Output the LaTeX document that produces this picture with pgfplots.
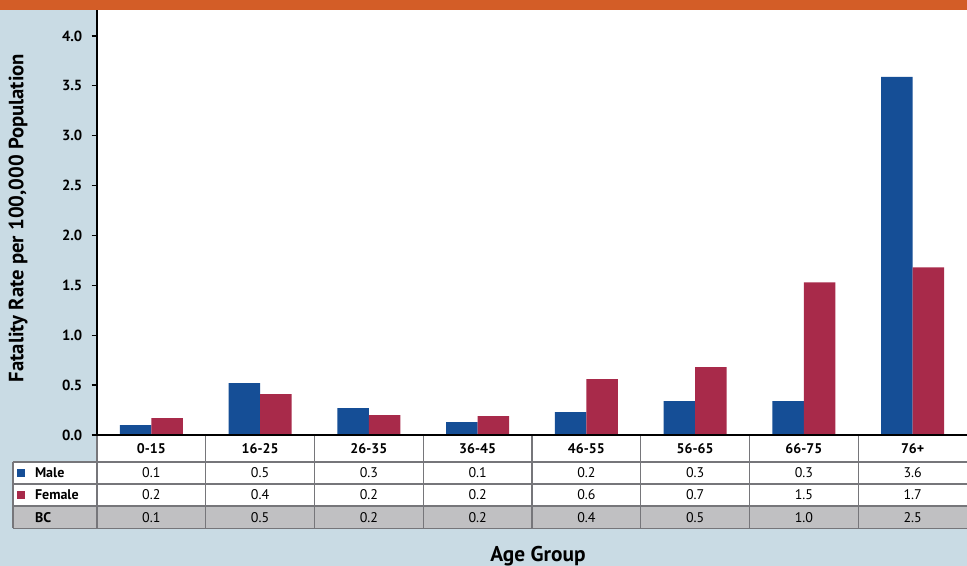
\documentclass[border=0pt]{standalone}
\usepackage{pgfplots}
\usepackage{pgfplotstable}
\pgfplotsset{compat=1.18}
\usepackage{fontspec}
\setmainfont{PT Sans}

\definecolor{bgblue}{HTML}{C9DBE4}
\definecolor{topbar}{HTML}{D35D27}
\definecolor{male}{HTML}{154E96}
\definecolor{female}{HTML}{A82A4A}
\definecolor{bcgray}{HTML}{C0C0C2}
\definecolor{gridgray}{HTML}{76767A}

% bar heights per age group
\pgfplotstableread{
x male female
0 0.10 0.17
1 0.52 0.41
2 0.27 0.20
3 0.13 0.19
4 0.23 0.56
5 0.34 0.68
6 0.34 1.53
7 3.59 1.68
}\rates

\begin{document}
\begin{tikzpicture}
% background and orange strip
\fill[bgblue] (-72.75pt,-98.25pt) rectangle (652.5pt,326.25pt);
\fill[topbar] (-72.75pt,318.75pt) rectangle (652.5pt,326.25pt);
\fill[white] (0pt,0pt) rectangle (652.5pt,318.75pt);

\begin{axis}[
	at={(0pt,0pt)}, anchor=south west,
	scale only axis,
	width=652.5pt, height=318.75pt,
	xmin=-0.5, xmax=7.5,
	ymin=0, ymax=4.26,
	axis x line*=bottom,
	axis y line*=left,
	axis line style={black, line width=2pt},
	xtick=\empty,
	ytick={0,0.5,...,4},
	tick align=outside,
	major tick length=4pt,
	ytick style={black, line width=1pt},
	yticklabel style={
		xshift=-3.5pt,
		font=\bfseries\fontsize{11}{13}\selectfont,
		/pgf/number format/fixed,
		/pgf/number format/fixed zerofill,
		/pgf/number format/precision=1,
		/pgf/number format/assume math mode=true},
	ybar,
	bar width=0.29,
	clip=false,
]
\addplot[fill=male, draw=none, bar shift=-0.145] table[x=x, y=male]{\rates};
\addplot[fill=female, draw=none, bar shift=0.145] table[x=x, y=female]{\rates};
\end{axis}

% data table below the axis
\fill[white] (0pt,0pt) rectangle (652.5pt,-20.25pt);
\fill[white] (-63pt,-20.25pt) rectangle (652.5pt,-53.25pt);
\fill[bcgray] (-63pt,-53.25pt) rectangle (652.5pt,-70.125pt);
\begin{scope}[draw=gridgray, line width=1pt]
\foreach \yy in {-20.25,-36.75,-53.25,-70.125}
	\draw (-63pt,\yy pt) -- (652.5pt,\yy pt);
\draw (-63pt,-20.25pt) -- (-63pt,-70.125pt);
\draw (0pt,-1pt) -- (0pt,-70.125pt);
\foreach \k in {1,...,7}
	\draw ({\k*81.5625pt},-1pt) -- ({\k*81.5625pt},-70.125pt);
\end{scope}
\draw[black, line width=2pt] (0pt,0pt) -- (652.5pt,0pt);

\foreach \lab [count=\i from 0] in {0-15,16-25,26-35,36-45,46-55,56-65,66-75,76+}
	\node[font=\bfseries\fontsize{10.5}{12}\selectfont] at ({(\i+0.5)*81.5625pt},-10.5pt) {\lab};
\foreach \v [count=\i from 0] in {0.1,0.5,0.3,0.1,0.2,0.3,0.3,3.6}
	\node[font=\fontsize{10.5}{12}\selectfont] at ({(\i+0.5)*81.5625pt},-28.5pt) {\v};
\foreach \v [count=\i from 0] in {0.2,0.4,0.2,0.2,0.6,0.7,1.5,1.7}
	\node[font=\fontsize{10.5}{12}\selectfont] at ({(\i+0.5)*81.5625pt},-45pt) {\v};
\foreach \v [count=\i from 0] in {0.1,0.5,0.2,0.2,0.4,0.5,1.0,2.5}
	\node[font=\fontsize{10.5}{12}\selectfont] at ({(\i+0.5)*81.5625pt},-61.7pt) {\v};

\fill[male] (-60pt,-25.5pt) rectangle (-54pt,-31.5pt);
\fill[female] (-60pt,-42pt) rectangle (-54pt,-48pt);
\node[anchor=west, font=\bfseries\fontsize{10.5}{12}\selectfont] at (-50pt,-28.5pt) {Male};
\node[anchor=west, font=\bfseries\fontsize{10.5}{12}\selectfont] at (-50pt,-45pt) {Female};
\node[anchor=west, font=\bfseries\fontsize{10.5}{12}\selectfont] at (-50pt,-61.7pt) {BC};

% axis titles
\node[font=\bfseries\fontsize{16}{19}\selectfont] at (330.75pt,-90.5pt) {Age Group};
\node[rotate=90, font=\bfseries\fontsize{15.5}{19}\selectfont] at (-59.25pt,162.75pt) {Fatality Rate per 100,000 Population};

\pgfresetboundingbox
\path[use as bounding box] (-72.75pt,-98.25pt) rectangle (652.5pt,326.25pt);
\end{tikzpicture}
\end{document}
